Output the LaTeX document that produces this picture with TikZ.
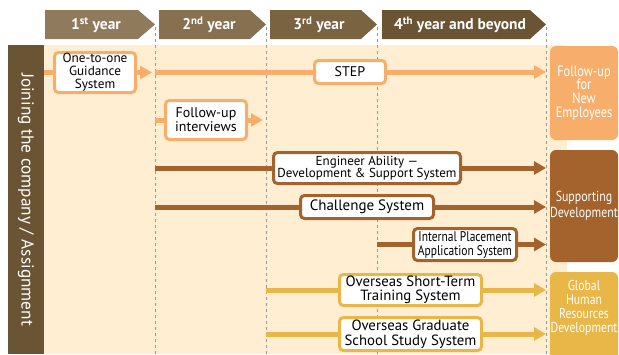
\documentclass[tikz,border=0pt]{standalone}
\usepackage{fontspec}
\setmainfont{PT Sans}
\newfontfamily\narrowfont[FakeStretch=0.82]{PT Sans}
\usepackage{xcolor}
\usetikzlibrary{arrows.meta, positioning}

\definecolor{cream}{HTML}{FFEED2}
\definecolor{barbrown}{HTML}{6B5434}
\definecolor{hdrA}{HTML}{8F7A5C}
\definecolor{hdrB}{HTML}{86704F}
\definecolor{hdrC}{HTML}{7A6341}
\definecolor{hdrD}{HTML}{6A5434}
\definecolor{peach}{HTML}{F8AE6B}
\definecolor{rust}{HTML}{A4622C}
\definecolor{mustard}{HTML}{E9B648}
\definecolor{dashgray}{HTML}{9A9A9A}

\begin{document}
\begin{tikzpicture}[x=1pt,y=-1pt]
\tikzstyle{box}=[draw, fill=white, line width=3pt, rounded corners=4pt, align=center, inner sep=0pt]
\tikzstyle{line}=[line width=5pt]
\tikzstyle{flow}=[line width=5pt, -{Triangle[length=12pt,width=13pt]}]
\tikzstyle{sidebox}=[rounded corners=6pt, text=white, align=center, minimum width=68pt, inner sep=0pt]
\tikzstyle{yearlabel}=[text=white, font=\bfseries\fontsize{15.5}{15.5}\selectfont]
\tikzstyle{dashline}=[dashgray, line width=1pt, dash pattern=on 3pt off 3pt]

\useasboundingbox (0,0) rectangle (619,354);

% background and left bar
\fill[cream] (44,45) rectangle (567,354);
\node[fill=barbrown, text=white, rotate=-90, minimum width=309pt, minimum height=36pt, inner sep=0pt,
  font=\fontsize{17.3}{17.3}\selectfont] (join) at (26,199.5) {Joining the company / Assignment};

% year headers
\fill[hdrA] (45,10) -- (138,10) -- (155,24.5) -- (138,39) -- (45,39) -- cycle;
\fill[hdrB] (159,10) -- (250,10) -- (266,24.5) -- (250,39) -- (159,39) -- cycle;
\fill[hdrC] (270,10) -- (361,10) -- (377,24.5) -- (361,39) -- (270,39) -- cycle;
\fill[hdrD] (382,10) -- (530,10) -- (546,24.5) -- (530,39) -- (382,39) -- cycle;
\node[yearlabel] (y1) at (96,25) {1\textsuperscript{st} year};
\node[yearlabel] (y2) at (209,25) {2\textsuperscript{nd} year};
\node[yearlabel] (y3) at (319,25) {3\textsuperscript{rd} year};
\node[yearlabel] (y4) at (460,25) {4\textsuperscript{th} year and beyond};

% year boundaries
\coordinate (d1) at (155,27);
\coordinate (d2) at (266,27);
\coordinate (d3) at (377,27);
\coordinate (d4) at (546,27);
\draw[dashline] (d1) -- ++(0,330);
\draw[dashline] (d2) -- ++(0,330);
\draw[dashline] (d3) -- ++(0,330);
\draw[dashline] (d4) -- ++(0,330);

% goals on the right
\node[sidebox, fill=peach, minimum height=94pt, font=\narrowfont\fontsize{15}{13.8}\selectfont] (fu) at (584,93) {Follow-up\\for\\New\\Employees};
\node[sidebox, fill=rust, minimum height=112pt, font=\narrowfont\fontsize{14.5}{16}\selectfont] (sd) at (584,206) {Supporting\\Development};
\fill[mustard, rounded corners=6pt] (550,272) rectangle (618,370);
\node[text=white, align=center, font=\narrowfont\fontsize{14.3}{13.9}\selectfont] (gh) at (584,308) {Global\\Human\\Resources\\Development};

% systems
\node[box, draw=peach, minimum width=81pt, minimum height=40pt, font=\fontsize{13.2}{13}\selectfont] (one) at (95,72.5) {One-to-one\\Guidance\\System};
\node[box, draw=peach, minimum width=71pt, minimum height=23pt, font=\fontsize{14}{14}\selectfont] (step) at (350,72) {STEP};
\node[box, draw=peach, minimum width=81pt, minimum height=39pt, font=\fontsize{14}{14}\selectfont] (fup) at (206,120) {Follow-up\\interviews};
\node[box, draw=rust, minimum width=187pt, minimum height=31pt, font=\fontsize{13}{12.5}\selectfont] (eng) at (367,168) {Engineer Ability ---\\Development \& Support System};
\node[box, draw=rust, minimum width=133pt, minimum height=23pt, font=\fontsize{15}{15}\selectfont] (chal) at (367,207) {Challenge System};
\node[box, draw=rust, minimum width=103pt, minimum height=32pt, font=\narrowfont\fontsize{14}{14}\selectfont] (ipl) at (465,244.5) {Internal Placement\\Application System};
\node[box, draw=mustard, minimum width=142pt, minimum height=31pt, font=\fontsize{14.8}{14.5}\selectfont] (ost) at (410.5,290) {Overseas Short-Term\\Training System};
\node[box, draw=mustard, minimum width=142pt, minimum height=33pt, font=\fontsize{14.8}{14.5}\selectfont] (ogs) at (410.5,334) {Overseas Graduate\\School Study System};

% flows
\draw[line, peach] (join.north |- one) -- (one.west);
\draw[flow, peach, shorten >=3pt] (one.east) -- (d1 |- one);
\draw[line, peach] (d1 |- step) -- (step.west);
\draw[flow, peach] (step.east) -- (d4 |- step);
\draw[line, peach] (d1 |- fup) -- (fup.west);
\draw[flow, peach, shorten >=3pt] (fup.east) -- (d2 |- fup);

\draw[line, rust] (d1 |- eng) -- (eng.west);
\draw[flow, rust] (eng.east) -- (d4 |- eng);
\draw[line, rust] (d1 |- chal) -- (chal.west);
\draw[flow, rust] (chal.east) -- (d4 |- chal);
\draw[line, rust] (d3 |- ipl) -- (ipl.west);
\draw[flow, rust] (ipl.east) -- (d4 |- ipl);

\draw[line, mustard] (d2 |- ost) -- (ost.west);
\draw[flow, mustard] (ost.east) -- (d4 |- ost);
\draw[line, mustard] (d2 |- ogs) -- (ogs.west);
\draw[flow, mustard] (ogs.east) -- (d4 |- ogs);

\end{tikzpicture}
\end{document}
